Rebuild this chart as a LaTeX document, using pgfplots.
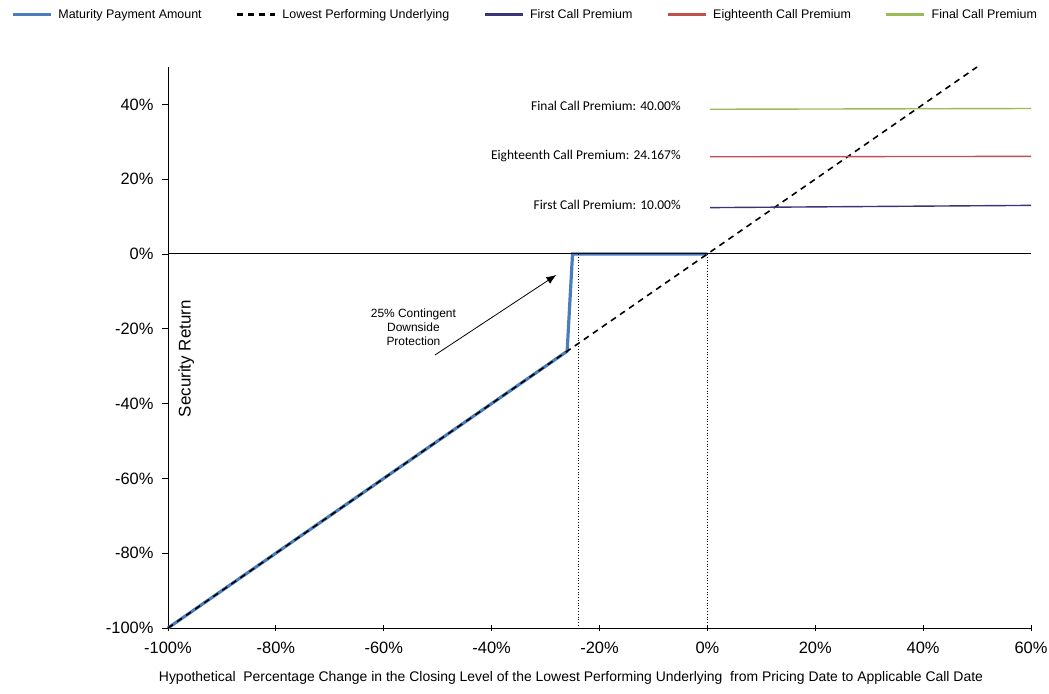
\documentclass[border=0pt]{standalone}
\usepackage{fontspec}
\setmainfont{Liberation Sans}
\newfontfamily\carlito{Carlito}
\usepackage{pgfplots}
\pgfplotsset{compat=1.18}
\usetikzlibrary{arrows.meta}

\definecolor{payblue}{HTML}{4A7EBB}
\definecolor{firstcol}{HTML}{3A3478}
\definecolor{eightcol}{HTML}{C0504D}
\definecolor{finalcol}{HTML}{9BBB59}

\begin{document}
\begin{tikzpicture}
\begin{axis}[
  scale only axis,
  width=863bp, height=561bp,
  xmin=-100, xmax=60, ymin=-100, ymax=50,
  axis x line=bottom, axis y line=left,
  axis line style={-, black, line width=0.9pt},
  xtick={-100,-80,...,60},
  xticklabels={-100\%,-80\%,-60\%,-40\%,-20\%,0\%,20\%,40\%,60\%},
  ytick={-100,-80,...,40},
  yticklabels={-100\%,-80\%,-60\%,-40\%,-20\%,0\%,20\%,40\%},
  tick style={black, line width=0.8pt},
  major tick length=6bp,
  xtick align=center, ytick align=outside,
  ticklabel style={font=\fontsize{16.5}{19}\selectfont},
  xticklabel style={yshift=-8bp},
  yticklabel style={xshift=-5bp},
  xlabel={Hypothetical\ \ Percentage Change in the Closing Level of the Lowest Performing Underlying\ \ from Pricing Date to Applicable Call Date},
  xlabel style={at={(axis description cs:0.467,0)}, anchor=north, yshift=-40bp,
    font=\fontsize{14}{16}\selectfont},
  legend columns=5,
  legend style={at={(axis description cs:0.414,1.094)}, anchor=center, draw=none,
    font=\fontsize{12.5}{14}\selectfont,
    /tikz/every odd column/.append style={column sep=4bp},
    /tikz/every even column/.append style={column sep=32bp}},
  legend image code/.code={\draw[#1, line width=2.8pt] (0bp,0bp) -- (38bp,0bp);},
  clip=false,
]
\addplot[payblue, line width=3.2pt] coordinates {(-100,-100) (-26,-26) (-25,0) (0,0)};
\addlegendentry{Maturity Payment Amount}
\addplot[black, line width=1.6pt, dash pattern=on 6bp off 5bp] coordinates {(-100,-100) (50,50)};
\addlegendentry{Lowest Performing Underlying}
\addplot[firstcol, line width=1.4pt] coordinates {(0.5,12.4) (60,13.0)};
\addlegendentry{First Call Premium}
\addplot[eightcol, line width=1.4pt] coordinates {(0.5,26.0) (60,26.1)};
\addlegendentry{Eighteenth Call Premium}
\addplot[finalcol, line width=1.4pt] coordinates {(0.5,38.7) (60,38.9)};
\addlegendentry{Final Call Premium}

\addplot[black, line width=1pt, forget plot] coordinates {(-100,0) (60,0)};
\addplot[black, line width=0.8pt, dotted, forget plot] coordinates {(-24,0) (-24,-100)};
\addplot[black, line width=0.8pt, dotted, forget plot] coordinates {(0,0) (0,-100)};

\draw[-{Latex[length=10bp,width=8bp]}, line width=0.8pt] (axis cs:-50.5,-27) -- (axis cs:-28,-5.6);
\node[align=center, font=\fontsize{12}{14}\selectfont] at (axis cs:-54.5,-19.5)
  {25\% Contingent\\Downside\\Protection};
\node[anchor=east, font=\carlito\fontsize{13.5}{16}\selectfont] at (axis cs:-4.3,39.6) {Final Call Premium: 40.00\%};
\node[anchor=east, font=\carlito\fontsize{13.5}{16}\selectfont] at (axis cs:-4.3,26.2) {Eighteenth Call Premium: 24.167\%};
\node[anchor=east, font=\carlito\fontsize{13.5}{16}\selectfont] at (axis cs:-4.3,13.1) {First Call Premium: 10.00\%};
\node[rotate=90, font=\fontsize{17}{20}\selectfont] at (axis cs:-96.6,-28) {Security Return};
\end{axis}
\pgfresetboundingbox
\path (current axis.south west) ++(-168bp,-66bp) rectangle ++(1049bp,694bp);
\end{tikzpicture}
\end{document}
